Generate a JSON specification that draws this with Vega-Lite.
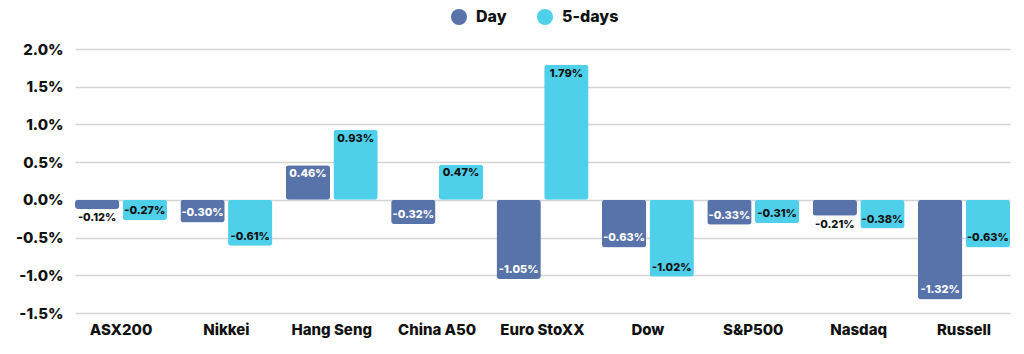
{
  "$schema": "https://vega.github.io/schema/vega-lite/v6.json",
  "width": 935,
  "height": 264,
  "autosize": {"type": "none"},
  "padding": {"left": 75, "top": 49, "right": 14, "bottom": 41},
  "background": "white",
  "config": {
    "view": {"stroke": null},
    "font": "Inter",
    "axis": {"labelFont": "Inter", "labelFontWeight": 800, "labelFontSize": 15, "labelColor": "#111111"}
  },
  "data": {
    "values": [
      {"index": "ASX200", "series": "Day", "value": -0.12},
      {"index": "ASX200", "series": "5-days", "value": -0.27},
      {"index": "Nikkei", "series": "Day", "value": -0.30},
      {"index": "Nikkei", "series": "5-days", "value": -0.61},
      {"index": "Hang Seng", "series": "Day", "value": 0.46},
      {"index": "Hang Seng", "series": "5-days", "value": 0.93},
      {"index": "China A50", "series": "Day", "value": -0.32},
      {"index": "China A50", "series": "5-days", "value": 0.47},
      {"index": "Euro StoXX", "series": "Day", "value": -1.05},
      {"index": "Euro StoXX", "series": "5-days", "value": 1.79},
      {"index": "Dow", "series": "Day", "value": -0.63},
      {"index": "Dow", "series": "5-days", "value": -1.02},
      {"index": "S&P500", "series": "Day", "value": -0.33},
      {"index": "S&P500", "series": "5-days", "value": -0.31},
      {"index": "Nasdaq", "series": "Day", "value": -0.21},
      {"index": "Nasdaq", "series": "5-days", "value": -0.38},
      {"index": "Russell", "series": "Day", "value": -1.32},
      {"index": "Russell", "series": "5-days", "value": -0.63}
    ]
  },
  "transform": [
    {"calculate": "replace(format(datum.value, '.2f'), '\u2212', '-') + '%'", "as": "label"}
  ],
  "encoding": {
    "x": {
      "field": "index", "type": "nominal", "sort": null,
      "scale": {"paddingInner": 0.127, "paddingOuter": 0},
      "axis": {"title": null, "labelAngle": 0, "domain": false, "ticks": false, "labelPadding": 9, "grid": false}
    },
    "xOffset": {"field": "series", "type": "nominal", "sort": ["Day", "5-days"], "scale": {"paddingInner": 0.07}},
    "y": {
      "field": "value", "type": "quantitative",
      "scale": {"domain": [-1.5, 2.0], "nice": false, "zero": true},
      "axis": {
        "title": null, "values": [-1.5, -1.0, -0.5, 0, 0.5, 1.0, 1.5, 2.0],
        "labelExpr": "replace(format(datum.value, '.1f'), '\u2212', '-') + '%'",
        "domain": false, "ticks": false, "labelPadding": 12,
        "grid": true, "gridColor": "#d4d4d4", "gridWidth": 1.5
      }
    }
  },
  "layer": [
    {
      "mark": {"type": "bar", "cornerRadius": 3},
      "encoding": {
        "color": {
          "field": "series", "type": "nominal",
          "scale": {"domain": ["Day", "5-days"], "range": ["#5873aa", "#4ecfea"]},
          "legend": {
            "title": null, "orient": "none", "direction": "horizontal",
            "legendX": 376, "legendY": -40,
            "symbolType": "circle", "symbolSize": 256, "symbolStrokeWidth": 0,
            "labelFont": "Inter", "labelFontWeight": 800, "labelFontSize": 16, "labelColor": "#111111",
            "labelOffset": 9, "columnPadding": 30
          }
        }
      }
    },
    {
      "transform": [{"filter": "datum.value > 0"}],
      "mark": {"type": "text", "baseline": "middle", "dy": 9, "fontSize": 11, "fontWeight": 800},
      "encoding": {
        "text": {"field": "label"},
        "color": {"condition": {"test": "datum.series === 'Day'", "value": "white"}, "value": "#111111"}
      }
    },
    {
      "transform": [{"filter": "datum.value <= -0.25"}],
      "mark": {"type": "text", "baseline": "middle", "dy": -9, "fontSize": 11, "fontWeight": 800},
      "encoding": {
        "text": {"field": "label"},
        "color": {"condition": {"test": "datum.series === 'Day'", "value": "white"}, "value": "#111111"}
      }
    },
    {
      "transform": [{"filter": "datum.value < 0 && datum.value > -0.25"}],
      "mark": {"type": "text", "baseline": "middle", "dy": 9, "fontSize": 11, "fontWeight": 800, "color": "#111111"},
      "encoding": {
        "text": {"field": "label"}
      }
    }
  ]
}
